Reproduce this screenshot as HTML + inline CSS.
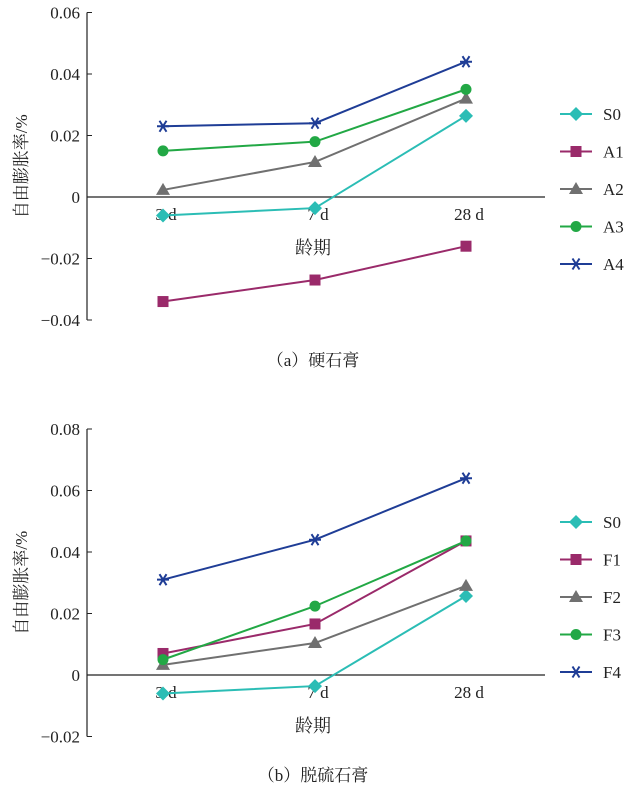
<!DOCTYPE html>
<html><head><meta charset="utf-8"><style>
body{margin:0;background:#fff;width:641px;height:791px;overflow:hidden}
svg text{font-family:"Liberation Serif","Noto Serif CJK SC",serif;fill:#222}
</style></head><body>
<svg id="svg" width="641" height="791" xmlns="http://www.w3.org/2000/svg"></svg>
<script>
const categories=["3 d","7 d","28 d"];
const yTicksTop=[0.06,0.04,0.02,0,-0.02,-0.04];
const yTickLabelsTop=["0.06","0.04","0.02","0","\u22120.02","\u22120.04"];
const yTicksBot=[0.08,0.06,0.04,0.02,0,-0.02];
const yTickLabelsBot=["0.08","0.06","0.04","0.02","0","\u22120.02"];
const namesTop=["S0","A1","A2","A3","A4"];
const S0=[-0.006,-0.0036,0.0264];
const A1=[-0.034,-0.027,-0.016];
const A2=[0.0023,0.0114,0.032];
const A3=[0.015,0.018,0.035];
const A4=[0.023,0.024,0.044];
const namesBot=["S0","F1","F2","F3","F4"];
const S0b=[-0.006,-0.0036,0.0257];
const F1=[0.007,0.0166,0.0436];
const F2=[0.0033,0.0104,0.029];
const F3=[0.005,0.0224,0.0436];
const F4=[0.031,0.044,0.064];
const colors=["#2bbdb5","#9a2a6a","#707070","#22a845","#1f3d96"];
const markers=["diamond","square","triangle","circle","star"];
const svg=document.getElementById('svg');
const NS="http://www.w3.org/2000/svg";
function mk(tag,attrs,parent){const e=document.createElementNS(NS,tag);for(const k in attrs)e.setAttribute(k,attrs[k]);(parent||svg).appendChild(e);return e;}
const xPos=i=>163+i*152+(i==2?-1:0);
function marker(g,type,x,y,c){
  let e;
  if(type=="diamond")e=mk('polygon',{points:`${x},${y-7} ${x+7},${y} ${x},${y+7} ${x-7},${y}`,fill:c},g);
  else if(type=="square")e=mk('rect',{x:x-5.5,y:y-5.5,width:11,height:11,fill:c},g);
  else if(type=="triangle")e=mk('polygon',{points:`${x},${y-7} ${x+7},${y+5} ${x-7},${y+5}`,fill:c},g);
  else if(type=="circle")e=mk('circle',{cx:x,cy:y,r:5.5,fill:c},g);
  else{e=mk('path',{d:`M${x-6},${y}H${x+6}M${x-3.5},${y-5.5}L${x+3.5},${y+5.5}M${x+3.5},${y-5.5}L${x-3.5},${y+5.5}`,stroke:c,'stroke-width':2,fill:'none'},g);}
  return e;
}
function panel(id,zeroY,pxPer,ticks,tickLabels,names,series,legY,caption,capY){
  const g=mk('g',{});
  
  
  const yS=v=>zeroY-v*pxPer;
  const top=yS(ticks[0]),bot=yS(ticks[ticks.length-1]);
  const ax=mk('line',{x1:87,y1:top,x2:87,y2:bot,stroke:'#222','stroke-width':1.2},g);
  
  const xa=mk('line',{x1:87,y1:zeroY,x2:545,y2:zeroY,stroke:'#222','stroke-width':1.2},g);
  
  ticks.forEach((t,i)=>{
    mk('line',{x1:87,y1:yS(t),x2:92,y2:yS(t),stroke:'#222'},g);
    const tx=mk('text',{x:80,y:yS(t)+6,'text-anchor':'end','font-size':17},g);
    tx.textContent=tickLabels[i];
    
  });
  categories.forEach((c,i)=>{
    const tx=mk('text',{x:xPos(i)+3,y:zeroY+23,'text-anchor':'middle','font-size':17},g);
    tx.textContent=c;
    
  });
  const xt=mk('text',{x:313,y:zeroY+57,'text-anchor':'middle','font-size':18},g);
  xt.textContent="龄期";
  const cy=(top+bot)/2;
  const yt=mk('text',{x:27,y:cy,'text-anchor':'middle','font-size':17,transform:`rotate(-90 27 ${cy})`},g);
  yt.textContent="自由膨胀率/%";
  series.forEach((s,si)=>{
    const pts=s.map((v,i)=>xPos(i)+","+yS(v)).join(" ");
    const l=mk('polyline',{points:pts,fill:'none',stroke:colors[si],'stroke-width':2},g);
    
    s.forEach((v,i)=>{const m=marker(g,markers[si],xPos(i),yS(v),colors[si]);
      });
    const ly=legY+si*37.5;
    const lg=mk('g',{},g);
    
    mk('line',{x1:560,y1:ly,x2:592,y2:ly,stroke:colors[si],'stroke-width':2},lg);
    marker(lg,markers[si],576,ly,colors[si]);
    const lt=mk('text',{x:603,y:ly+6,'font-size':17},lg);lt.textContent=names[si];
  });
  const ct=mk('text',{x:313,y:capY,'text-anchor':'middle','font-size':17},g);
  ct.textContent=caption;
}
panel('panel-a',197,3075,yTicksTop,yTickLabelsTop,namesTop,[S0,A1,A2,A3,A4],114,"（a）硬石膏",366);
panel('panel-b',675,3075,yTicksBot,yTickLabelsBot,namesBot,[S0b,F1,F2,F3,F4],522,"（b）脱硫石膏",781);
</script>
</body></html>
